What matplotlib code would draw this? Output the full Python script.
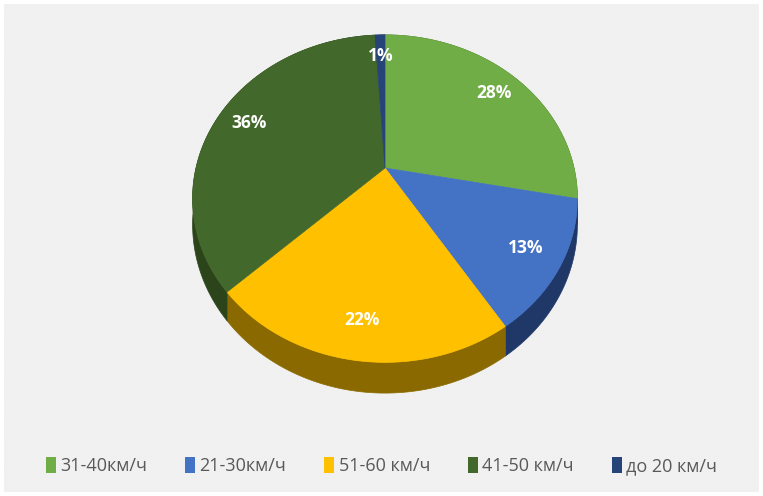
import numpy as np
import matplotlib.pyplot as plt
from matplotlib.patches import Polygon, Rectangle

labels = ['31-40км/ч', '21-30км/ч', '51-60 км/ч', '41-50 км/ч', 'до 20 км/ч']
shares = [28, 13, 22, 36, 1]
colors = ['#70AD47', '#4472C4', '#FFC000', '#43682B', '#264478']
side_colors = ['#3f6427', '#1f3868', '#8a6a00', '#2b4419', '#15294a']

plt.rcParams['font.family'] = ['Open Sans', 'DejaVu Sans']
plt.rcParams['hatch.linewidth'] = 0.7

fig = plt.figure(figsize=(7.63, 4.96), dpi=100)
ax = fig.add_axes([0, 0, 1, 1])
ax.set_xlim(0, 763)
ax.set_ylim(496, 0)
ax.axis('off')

# striped background + legend band
ax.add_patch(Rectangle((4, 4), 755, 488, facecolor='white', edgecolor='#eeeeee',
                       hatch='\\' * 20, lw=0, zorder=0))
ax.add_patch(Rectangle((6, 444), 748, 46, facecolor='none', edgecolor='#f0f0f0',
                       lw=0.8, zorder=1))

# perspective pie geometry (pixels)
cx, cy = 385, 168
R, A, k, depth = 189, 158, 0.187, 25


def project(t, r=1.0):
    u, v = r * np.cos(t), r * np.sin(t)
    w = 1 + k * v
    return cx + R * u / w, cy - A * v / w, w


total = sum(shares)
start = np.pi / 2
bounds = []
for s in shares:
    end = start - 2 * np.pi * s / total
    bounds.append((start, end))
    start = end

# side walls first
for (t0, t1), sc in zip(bounds, side_colors):
    t = np.linspace(t0, t1, 200)
    x, y, w = project(t)
    top = np.column_stack([x, y])
    bot = np.column_stack([x, y + depth / w])[::-1]
    ax.add_patch(Polygon(np.vstack([top, bot]), closed=True, facecolor=sc,
                         edgecolor=sc, lw=0.5, zorder=2))

# top faces
for (t0, t1), c in zip(bounds, colors):
    t = np.linspace(t0, t1, 200)
    x, y, _ = project(t)
    pts = np.vstack([[cx, cy], np.column_stack([x, y])])
    ax.add_patch(Polygon(pts, closed=True, facecolor=c, edgecolor=c, lw=0.5, zorder=3))

# data labels
for (t0, t1), s in zip(bounds, shares):
    x, y, _ = project((t0 + t1) / 2, 0.82)
    ax.text(x, y, f'{s}%', color='white', fontsize=12.5, fontweight='bold',
            ha='center', va='center', zorder=4)

# legend
handles = [Rectangle((0, 0), 1, 1, facecolor=c, edgecolor='none') for c in colors]
fig.legend(handles, labels, loc='center', bbox_to_anchor=(0.5, 0.06), ncol=5,
           frameon=False, fontsize=13, handlelength=0.55, handleheight=1.0,
           handletextpad=0.25, columnspacing=2.1, labelcolor='#595959')

fig.savefig('out.png', dpi=100)
